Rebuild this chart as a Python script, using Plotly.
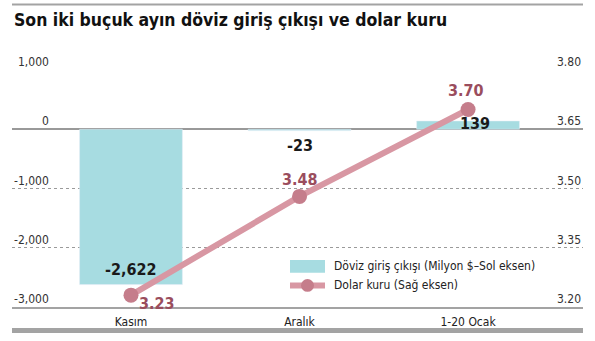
import plotly.graph_objects as go

# Data
periods = ["Kasım", "Aralık", "1-20 Ocak"]
fx_flow = [-2622, -23, 139]          # Milyon $ (left axis)
usd_rate = [3.23, 3.48, 3.70]        # USD/TRY (right axis)

left_ticks = [1000, 0, -1000, -2000, -3000]
right_ticks = [3.80, 3.65, 3.50, 3.35, 3.20]

title_text = "Son iki buçuk ayın döviz giriş çıkışı ve dolar kuru"
legend_bar = "Döviz giriş çıkışı (Milyon $–Sol eksen)"
legend_line = "Dolar kuru (Sağ eksen)"

# Styling
W, H = 595, 341
ML, MR, MT, MB = 12, 12, 70, 29
BAR_COLOR = "#a7dce1"
LINE_COLOR = "#d897a3"
MARKER_COLOR = "#c57d8b"
RATE_LABEL_COLOR = "#9a4d5d"
GRAY = "#a3a3a3"
FONT = "DejaVu Sans Condensed, Roboto, sans-serif"

bar_label_shift = [(0, 15), (0, -15), (7, -2)]
rate_label_shift = [(26, -8), (0, 17), (-2, 19)]

fig = go.Figure()

fig.add_trace(go.Bar(
    x=periods, y=fx_flow, marker_color=BAR_COLOR, width=0.61,
    showlegend=False, hoverinfo="skip",
))
fig.add_trace(go.Scatter(
    x=periods, y=usd_rate, yaxis="y2", mode="lines+markers",
    line=dict(color=LINE_COLOR, width=6),
    marker=dict(color=MARKER_COLOR, size=15),
    showlegend=False, hoverinfo="skip",
))

ann = []
# Bar value labels
for p, v, (dx, dy) in zip(periods, fx_flow, bar_label_shift):
    ann.append(dict(x=p, y=v, xref="x", yref="y", text=f"<b>{v:,}</b>",
                    showarrow=False, xshift=dx, yshift=dy,
                    font=dict(size=16, color="#1a1a1a", family=FONT)))
# Rate value labels
for p, v, (dx, dy) in zip(periods, usd_rate, rate_label_shift):
    ann.append(dict(x=p, y=v, xref="x", yref="y2", text=f"<b>{v:.2f}</b>",
                    showarrow=False, xshift=dx, yshift=dy,
                    font=dict(size=16, color=RATE_LABEL_COLOR, family=FONT)))

plot_w = W - ML - MR
plot_h = H - MT - MB

def px_x(px):
    return (px - ML) / plot_w

def px_y(py):
    return (H - MB - py) / plot_h

# Tick labels sitting above grid lines
for t in left_ticks:
    ann.append(dict(x=px_x(51), y=t, xref="paper", yref="y", text=f"{t:,}",
                    xanchor="right", yanchor="bottom", showarrow=False, yshift=-1,
                    font=dict(size=12, color="#333333", family=FONT)))
for t in right_ticks:
    ann.append(dict(x=1.0, y=t, xref="paper", yref="y2", text=f"{t:.2f}",
                    xanchor="right", yanchor="bottom", showarrow=False, yshift=-1,
                    font=dict(size=12, color="#333333", family=FONT)))

# Title
ann.append(dict(x=0, y=px_y(19), xref="paper", yref="paper", text=f"<b>{title_text}</b>",
                xanchor="left", yanchor="middle", showarrow=False,
                font=dict(size=17.5, color="#111111", family=FONT)))

# Legend text
ann.append(dict(x=px_x(332), y=px_y(270), xref="paper", yref="paper", text=legend_bar,
                xanchor="left", yanchor="middle", showarrow=False,
                font=dict(size=12, color="#222222", family=FONT)))
ann.append(dict(x=px_x(332), y=px_y(290), xref="paper", yref="paper", text=legend_line,
                xanchor="left", yanchor="middle", showarrow=False,
                font=dict(size=12, color="#222222", family=FONT)))

shapes = [
    # top rule
    dict(type="line", xref="paper", yref="paper", x0=0, x1=1, y0=px_y(3), y1=px_y(3),
         line=dict(color=GRAY, width=2)),
    # bottom thick rule
    dict(type="line", xref="paper", yref="paper", x0=0, x1=1, y0=px_y(336), y1=px_y(336),
         line=dict(color=GRAY, width=5)),
    # legend swatches
    dict(type="rect", xref="paper", yref="paper", x0=px_x(290), x1=px_x(325),
         y0=px_y(277), y1=px_y(264), fillcolor=BAR_COLOR, line=dict(width=0)),
    dict(type="line", xref="paper", yref="paper", x0=px_x(290), x1=px_x(325),
         y0=px_y(290), y1=px_y(290), line=dict(color=LINE_COLOR, width=6)),
    dict(type="circle", xref="paper", yref="paper", x0=px_x(301), x1=px_x(314),
         y0=px_y(296.5), y1=px_y(283.5), fillcolor=MARKER_COLOR, line=dict(width=0)),
]

fig.update_layout(
    width=W, height=H,
    margin=dict(l=ML, r=MR, t=MT, b=MB),
    paper_bgcolor="white", plot_bgcolor="white",
    font=dict(family=FONT, color="#222222"),
    xaxis=dict(type="category", range=[-0.706, 2.682], showgrid=False,
               showline=True, linecolor=GRAY, linewidth=2,
               ticks="outside", ticklen=3, tickcolor="rgba(0,0,0,0)",
               tickfont=dict(size=12, color="#222222"), fixedrange=True),
    yaxis=dict(range=[-3000, 1000], tickvals=left_ticks, showticklabels=False,
               showgrid=True, gridcolor="#9a9a9a", griddash="dot", gridwidth=1,
               zeroline=True, zerolinecolor="#999999", zerolinewidth=1.5),
    yaxis2=dict(range=[3.20, 3.80], overlaying="y", side="right", showgrid=False,
                showticklabels=False, zeroline=False),
    annotations=ann,
    shapes=shapes,
    bargap=0.39,
)

fig.write_html("out.html")
